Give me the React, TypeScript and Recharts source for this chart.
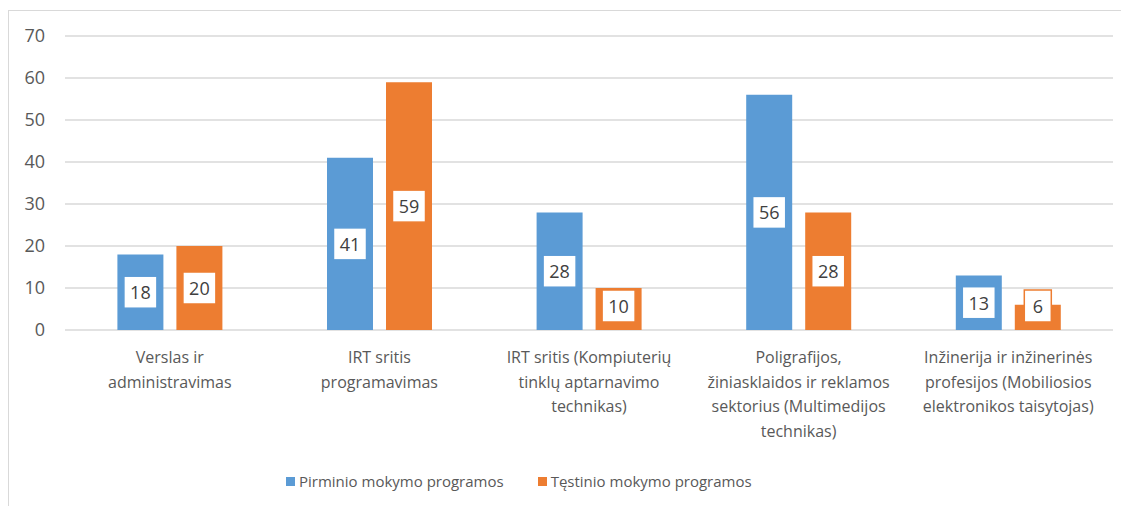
import React from "react";
import { BarChart, Bar, XAxis, YAxis, CartesianGrid, Legend, LabelList } from "recharts";

const categories: string[] = [
  "Verslas ir\nadministravimas",
  "IRT sritis\nprogramavimas",
  "IRT sritis (Kompiuterių\ntinklų aptarnavimo\ntechnikas)",
  "Poligrafijos,\nžiniasklaidos ir reklamos\nsektorius (Multimedijos\ntechnikas)",
  "Inžinerija ir inžinerinės\nprofesijos (Mobiliosios\nelektronikos taisytojas)",
];
const pirminio: number[] = [18, 41, 28, 56, 13];
const testinio: number[] = [20, 59, 10, 28, 6];
const yTicks: number[] = [0, 10, 20, 30, 40, 50, 60, 70];
const seriesNames = ["Pirminio mokymo programos", "Tęstinio mokymo programos"];

const BLUE = "#5B9BD5";
const ORANGE = "#ED7D31";
const FONT = "'Open Sans', sans-serif";

const data = categories.map((c, i) => ({ name: c, a: pirminio[i], b: testinio[i] }));

const CatTick = (props: any) => {
  const { x, y, payload } = props;
  const lines: string[] = String(payload.value).split("\n");
  return (
    <g>
      {lines.map((l, i) => (
        <text
          key={i}
          x={x}
          y={y + 27 + i * 24.5}
          textAnchor="middle"
          dominantBaseline="central"
          fontFamily={FONT}
          fontSize={16}
          fill="#595959"
        >
          {l}
        </text>
      ))}
    </g>
  );
};

const makeLabel = (color: string) => (props: any) => {
  const { x, y, width, height, value } = props;
  const s = String(value);
  const w = s.length > 1 ? 33 : 27;
  const h = 32;
  const cx = x + width / 2;
  const cy = Math.min(y + height / 2, y + height - 24);
  return (
    <g>
      <rect x={cx - w / 2} y={cy - h / 2} width={w} height={h} fill="#fff" stroke={color} strokeWidth={1.5} />
      <text x={cx} y={cy} textAnchor="middle" dominantBaseline="central" fontFamily={FONT} fontSize={18} fill="#404040">
        {s}
      </text>
    </g>
  );
};

const LegendContent = () => (
  <div style={{ display: "flex", justifyContent: "flex-start", paddingLeft: 277, fontFamily: FONT, fontSize: 15, color: "#595959" }}>
    {[BLUE, ORANGE].map((c, i) => (
      <div key={i} style={{ display: "flex", alignItems: "center", marginLeft: i ? 34 : 0 }}>
        <span style={{ display: "inline-block", width: 9, height: 9, background: c, marginRight: 4 }} />
        <span>{seriesNames[i]}</span>
      </div>
    ))}
  </div>
);

export default function App() {
  return (
    <div
      style={{
        marginTop: 2,
        width: 1121,
        height: 496,
        borderTop: "1px solid #d9d9d9",
        borderLeft: "1px solid #d9d9d9",
        boxSizing: "border-box",
      }}
    >
      <BarChart
        width={1119}
        height={494}
        data={data}
        margin={{ top: 25, right: 15, left: 0, bottom: 0 }}
        barCategoryGap="25%"
        barGap={13}
      >
        <CartesianGrid vertical={false} stroke="#d9d9d9" strokeWidth={1.3} />
        <XAxis
          dataKey="name"
          axisLine={false}
          tickLine={false}
          tickSize={0}
          tickMargin={0}
          height={175}
          interval={0}
          tick={<CatTick />}
        />
        <YAxis
          domain={[0, 70]}
          ticks={yTicks}
          width={56}
          axisLine={false}
          tickLine={false}
          tickSize={0}
          tickMargin={20}
          tick={{ fontFamily: FONT, fontSize: 18, fill: "#595959" }}
        />
        <Legend
          verticalAlign="middle"
          layout="horizontal"
          align="center"
          content={<LegendContent />}
          wrapperStyle={{ top: 460, left: 0, width: 1119 }}
        />
        <Bar dataKey="a" name={seriesNames[0]} fill={BLUE} isAnimationActive={false}>
          <LabelList dataKey="a" content={makeLabel(BLUE)} />
        </Bar>
        <Bar dataKey="b" name={seriesNames[1]} fill={ORANGE} isAnimationActive={false}>
          <LabelList dataKey="b" content={makeLabel(ORANGE)} />
        </Bar>
      </BarChart>
    </div>
  );
}
